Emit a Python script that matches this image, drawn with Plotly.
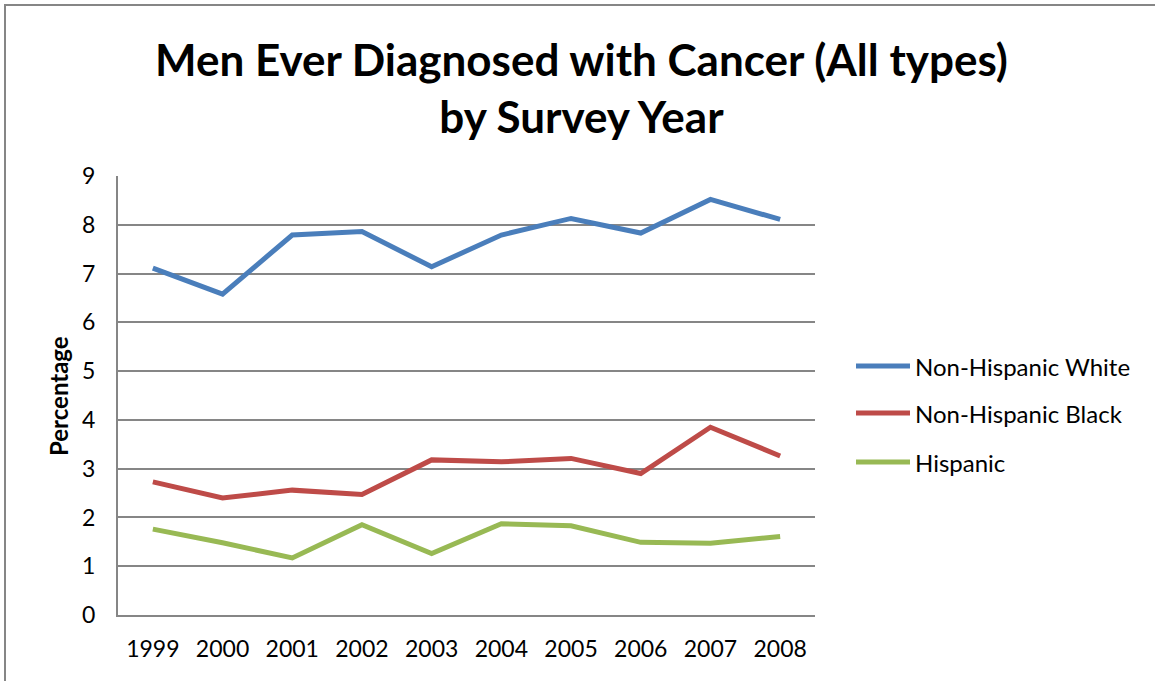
import plotly.graph_objects as go

years = ["1999", "2000", "2001", "2002", "2003", "2004", "2005", "2006", "2007", "2008"]
white = [7.11, 6.58, 7.79, 7.86, 7.14, 7.79, 8.13, 7.83, 8.52, 8.11]
black = [2.73, 2.40, 2.56, 2.47, 3.18, 3.14, 3.21, 2.90, 3.85, 3.26]
hispanic = [1.76, 1.48, 1.17, 1.85, 1.26, 1.87, 1.83, 1.49, 1.47, 1.61]
series_names = ["Non-Hispanic White", "Non-Hispanic Black", "Hispanic"]
series_colors = ["#4A7EBB", "#BE4B48", "#98B954"]
y_ticks = [0, 1, 2, 3, 4, 5, 6, 7, 8, 9]

FONT = "Lato"
fig = go.Figure()
for name, vals, col in zip(series_names, [white, black, hispanic], series_colors):
    fig.add_trace(go.Scatter(x=years, y=vals, mode="lines", name=name,
                             line=dict(color=col, width=5), showlegend=False))

# plot area geometry in pixels (for the hand-built legend and chart border)
L, R, T, B = 118, 815, 176, 615
W, H = R - L, B - T

def px_x(p):
    return (p - L) / W

def px_y(p):
    return (B - p) / H

shapes = [dict(type="rect", xref="paper", yref="paper",
               x0=px_x(5), x1=px_x(1170), y0=px_y(700), y1=px_y(5),
               line=dict(color="#868686", width=2), layer="below")]
annotations = []
legend_y = [366, 413, 462]
for name, col, yy in zip(series_names, series_colors, legend_y):
    shapes.append(dict(type="line", xref="paper", yref="paper",
                       x0=px_x(856), x1=px_x(910), y0=px_y(yy), y1=px_y(yy),
                       line=dict(color=col, width=5)))
    annotations.append(dict(xref="paper", yref="paper", x=px_x(913), y=px_y(yy),
                            text=name, showarrow=False, xanchor="left", yanchor="middle",
                            font=dict(family=FONT, size=24, color="black")))

annotations.append(dict(xref="paper", yref="paper", x=px_x(581), y=px_y(87),
                        text="<b>Men Ever Diagnosed with Cancer (All types)<br>by Survey Year</b>",
                        showarrow=False, xanchor="center", yanchor="middle",
                        font=dict(family=FONT, size=44, color="black")))
annotations.append(dict(xref="paper", yref="paper", x=px_x(58), y=px_y(396),
                        text="<b>Percentage</b>", textangle=-90, showarrow=False,
                        xanchor="center", yanchor="middle",
                        font=dict(family=FONT, size=24, color="black")))

fig.update_layout(
    width=1155, height=681,
    margin=dict(l=L, r=1155 - R, t=T, b=681 - B),
    paper_bgcolor="white", plot_bgcolor="white",
    shapes=shapes, annotations=annotations,
    xaxis=dict(type="category", range=[-0.5, 9.5], showgrid=False,
               showline=True, linecolor="#868686", linewidth=2,
               ticks="", tickfont=dict(family=FONT, size=23, color="black"),
               ticklabelstandoff=12),
    yaxis=dict(range=[0, 9], tickvals=y_ticks, showgrid=True, gridcolor="#868686",
               gridwidth=1.5, zeroline=False, showline=True, linecolor="#868686",
               linewidth=2, ticks="", tickfont=dict(family=FONT, size=23, color="black"),
               ticklabelstandoff=16),
)

fig.write_html("out.html")
